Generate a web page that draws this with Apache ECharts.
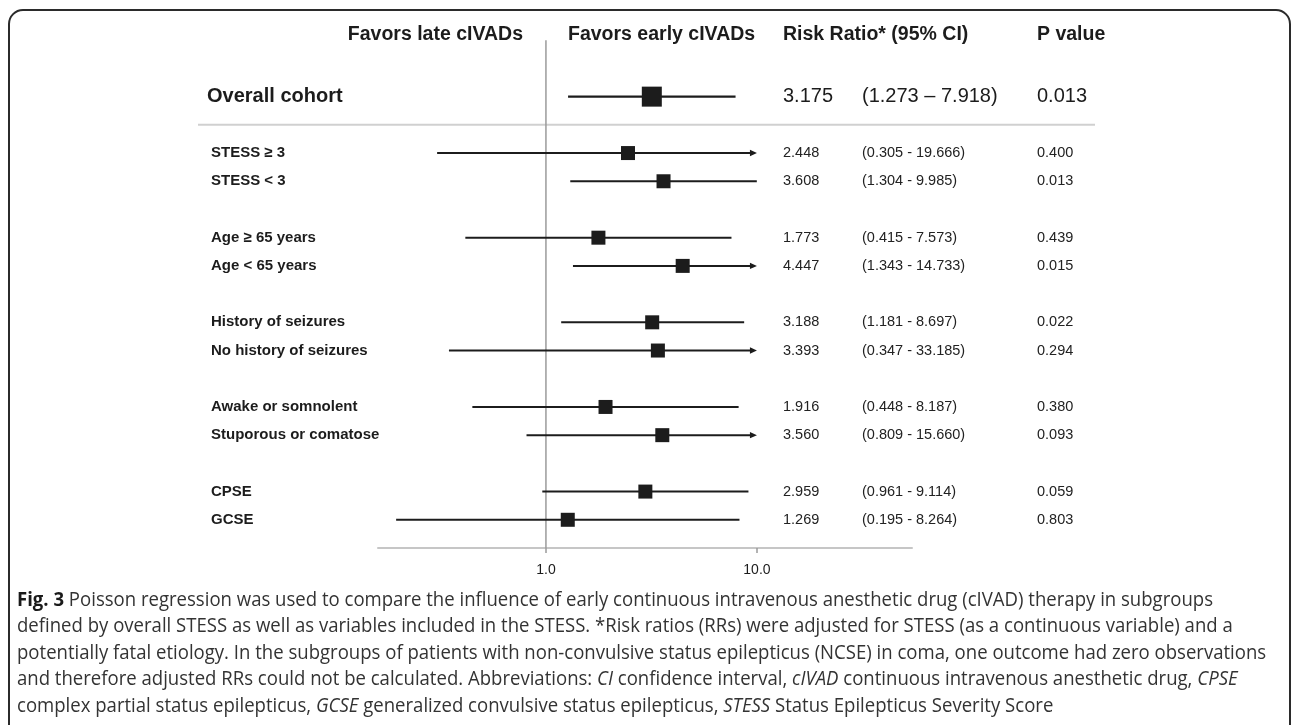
<!DOCTYPE html>
<html><head><meta charset="utf-8">
<script src="https://cdn.jsdelivr.net/npm/echarts@6/dist/echarts.min.js"></script>
<style>html,body{margin:0;padding:0;background:#fff}#c{width:1292px;height:725px}</style>
</head><body><div id="c"></div>
<script>
// ---------------- data ----------------
const groups = ['Overall cohort', 'STESS \u2265 3', 'STESS < 3', 'Age \u2265 65 years', 'Age < 65 years',
  'History of seizures', 'No history of seizures', 'Awake or somnolent', 'Stuporous or comatose', 'CPSE', 'GCSE'];
const riskRatio = [3.175, 2.448, 3.608, 1.773, 4.447, 3.188, 3.393, 1.916, 3.560, 2.959, 1.269];
const ciLow  = [1.273, 0.305, 1.304, 0.415, 1.343, 1.181, 0.347, 0.448, 0.809, 0.961, 0.195];
const ciHigh = [7.918, 19.666, 9.985, 7.573, 14.733, 8.697, 33.185, 8.187, 15.660, 9.114, 8.264];
const pValues = ['0.013', '0.400', '0.013', '0.439', '0.015', '0.022', '0.294', '0.380', '0.093', '0.059', '0.803'];
const xTickValues = [1, 10];
const xTickLabels = ['1.0', '10.0'];
const headers = ['Favors late cIVADs', 'Favors early cIVADs', 'Risk Ratio* (95% CI)', 'P value'];
const captionLines = [
  '{b|Fig. 3} Poisson regression was used to compare the influence of early continuous intravenous anesthetic drug (cIVAD) therapy in subgroups',
  'defined by overall STESS as well as variables included in the STESS. *Risk ratios (RRs) were adjusted for STESS (as a continuous variable) and a',
  'potentially fatal etiology. In the subgroups of patients with non-convulsive status epilepticus (NCSE) in coma, one outcome had zero observations',
  'and therefore adjusted RRs could not be calculated. Abbreviations: {i|CI} confidence interval, {i|cIVAD} continuous intravenous anesthetic drug, {i|CPSE}',
  'complex partial status epilepticus, {i|GCSE} generalized convulsive status epilepticus, {i|STESS} Status Epilepticus Severity Score'
];

// ---------------- layout ----------------
const rowSlot = [3, 5, 6, 8, 9, 11, 12, 14, 15, 17, 18]; // row order on the y band axis
const NSLOT = 20;
const ARROW_CAP = 10;       // CIs beyond this are drawn as arrows
const REF_TOP_SLOT = 1;
const AXIS_SLOT = NSLOT - 1;
const FONT = 'Liberation Sans, Arial, sans-serif';
const INK = '#1c1c1c';

const gridLeft = 378, gridRight = 912, gridTop = 12, gridBottom = 548;

function blank() { return Array(NSLOT).fill(''); }
const labelCol = blank(), rrCol = blank(), ciCol = blank(), pCol = blank();
groups.forEach((g, i) => {
  const k = i === 0 ? 'o' : 's';
  const s = rowSlot[i];
  labelCol[s] = '{' + k + 'l|' + g + '}';
  rrCol[s] = '{' + k + '|' + riskRatio[i].toFixed(3) + '}';
  ciCol[s] = '{' + k + '|(' + ciLow[i].toFixed(3) + (i === 0 ? ' \u2013 ' : ' - ') + ciHigh[i].toFixed(3) + ')}';
  pCol[s] = '{' + k + '|' + pValues[i] + '}';
});

const RICH = {
  o: { fontFamily: FONT, fontSize: 20, color: INK },
  s: { fontFamily: FONT, fontSize: 14.5, color: '#222' },
  ol: { fontFamily: FONT, fontSize: 20, fontWeight: 'bold', color: INK },
  sl: { fontFamily: FONT, fontSize: 15, fontWeight: 'bold', color: INK, padding: [0, 0, 0, 4] }
};

function catAxis(data, position, offset, margin, align) {
  return {
    type: 'category', data: data, inverse: true, boundaryGap: false, gridIndex: 0,
    position: position, offset: offset,
    axisLine: { show: false }, axisTick: { show: false }, splitLine: { show: false },
    axisLabel: { interval: 0, margin: margin, align: align, rich: RICH, fontFamily: FONT }
  };
}

const whiskerData = groups.map((g, i) => [ciLow[i], ciHigh[i], rowSlot[i], i === 0 ? 1 : 0]);
const boxData = groups.map((g, i) => [riskRatio[i], rowSlot[i]]);
const refLine = [[1, REF_TOP_SLOT], [1, AXIS_SLOT]];

// caption horizontal compression (condensed face emulation)
const CAP_SIZE = 20, CAP_FONT = 'Open Sans';
const mctx = document.createElement('canvas').getContext('2d');
function measureRich(str) {
  let w = 0; const re = /\{(\w)\|([^}]*)\}|([^{]+)/g; let m;
  while ((m = re.exec(str))) {
    if (m[1]) {
      const st = m[1] === 'b' ? 'normal bold ' : 'italic normal ';
      mctx.font = st + CAP_SIZE + 'px "' + CAP_FONT + '"'; w += mctx.measureText(m[2]).width;
    } else { mctx.font = 'normal normal ' + CAP_SIZE + 'px "' + CAP_FONT + '"'; w += mctx.measureText(m[3]).width; }
  }
  return w;
}
const capLeft = 17, capRightLine1 = 1213;
const capScale = (capRightLine1 - capLeft) / measureRich(captionLines[0]);

const graphics = [
  { type: 'rect', z: 0, shape: { x: 9, y: 10, width: 1281, height: 780, r: 14 },
    style: { fill: 'none', stroke: '#2b2b2b', lineWidth: 2 } },
  { type: 'text', x: 523, y: 35, style: { text: headers[0], fontFamily: FONT, fontSize: 19.5, fontWeight: 'bold', fill: INK, align: 'right', verticalAlign: 'middle' } },
  { type: 'text', x: 568, y: 35, style: { text: headers[1], fontFamily: FONT, fontSize: 19.5, fontWeight: 'bold', fill: INK, align: 'left', verticalAlign: 'middle' } },
  { type: 'text', x: 783, y: 35, style: { text: headers[2], fontFamily: FONT, fontSize: 19.5, fontWeight: 'bold', fill: INK, align: 'left', verticalAlign: 'middle' } },
  { type: 'text', x: 1037, y: 35, style: { text: headers[3], fontFamily: FONT, fontSize: 19.5, fontWeight: 'bold', fill: INK, align: 'left', verticalAlign: 'middle' } }
];
captionLines.forEach((ln, i) => {
  graphics.push({
    type: 'text', x: capLeft, y: 600 + i * 26.5, scaleX: capScale, scaleY: 1,
    style: {
      text: ln, fontFamily: CAP_FONT, fontSize: CAP_SIZE, fill: '#333', align: 'left', verticalAlign: 'middle',
      rich: {
        b: { fontFamily: CAP_FONT, fontSize: CAP_SIZE, fontWeight: 'bold', fill: '#1a1a1a', color: '#1a1a1a' },
        i: { fontFamily: CAP_FONT, fontSize: CAP_SIZE, fontStyle: 'italic', fill: '#333', color: '#333' }
      }
    }
  });
});

const chart = echarts.init(document.getElementById('c'), null, { renderer: 'canvas' });
chart.setOption({
  animation: false,
  backgroundColor: '#fff',
  grid: { left: gridLeft, width: gridRight - gridLeft, top: gridTop, height: gridBottom - gridTop, outerBoundsMode: 'none', containLabel: false },
  xAxis: {
    type: 'log', logBase: 10, min: 0.16, max: 54.3,
    axisLine: { show: true, lineStyle: { color: '#c6c6c6', width: 2 } },
    axisTick: { show: true, customValues: xTickValues, length: 5, lineStyle: { color: '#9a9a9a', width: 1.5 } },
    axisLabel: {
      customValues: xTickValues, margin: 15, fontFamily: FONT, fontSize: 14, color: INK,
      formatter: v => { let best = 0; xTickValues.forEach((t, j) => { if (Math.abs(Math.log10(t) - Math.log10(v)) < Math.abs(Math.log10(xTickValues[best]) - Math.log10(v))) best = j; }); return xTickLabels[best]; }
    },
    splitLine: { show: false }, minorTick: { show: false }
  },
  yAxis: [
    catAxis(labelCol, 'left', 0, gridLeft - 207, 'left'),
    catAxis(rrCol, 'right', 783 - gridRight - 8, 8, 'left'),
    catAxis(ciCol, 'right', 862 - gridRight - 8, 8, 'left'),
    catAxis(pCol, 'right', 1037 - gridRight - 8, 8, 'left')
  ],
  graphic: graphics,
  series: [
    { // reference line at RR = 1
      type: 'line', data: refLine, xAxisIndex: 0, yAxisIndex: 0, symbol: 'none', silent: true,
      lineStyle: { color: '#9b9b9b', width: 1.5 }, z: 1
    },
    { // separator under overall cohort
      type: 'custom', data: [[1, 4]], encode: { x: 0, y: 1 }, clip: false, silent: true, z: 1,
      renderItem: (p, api) => {
        const y = api.coord([1, api.value(1)])[1];
        return { type: 'line', shape: { x1: 198, y1: y, x2: 1095, y2: y }, style: { stroke: '#d0d0d0', lineWidth: 2 } };
      }
    },
    { // confidence interval whiskers
      type: 'custom', data: whiskerData, encode: { x: [0, 1], y: 2 }, z: 3, silent: true,
      renderItem: (p, api) => {
        const lo = api.value(0), hi = api.value(1), slot = api.value(2), big = api.value(3);
        const capped = hi > ARROW_CAP;
        const a = api.coord([lo, slot]);
        const b = api.coord([capped ? ARROW_CAP : hi, slot]);
        const children = [{ type: 'line', shape: { x1: a[0], y1: a[1], x2: capped ? b[0] - 5 : b[0], y2: b[1] },
          style: { stroke: INK, lineWidth: big ? 2.4 : 2 } }];
        if (capped) children.push({ type: 'polygon', shape: { points: [[b[0], b[1]], [b[0] - 7, b[1] - 3.2], [b[0] - 7, b[1] + 3.2]] }, style: { fill: INK } });
        return { type: 'group', children: children };
      }
    },
    { // point estimates
      type: 'scatter', data: boxData, symbol: 'rect', z: 4, silent: true,
      symbolSize: (v, prm) => prm.dataIndex === 0 ? 20 : 14,
      itemStyle: { color: INK, opacity: 1 }
    }
  ]
});
</script></body></html>
